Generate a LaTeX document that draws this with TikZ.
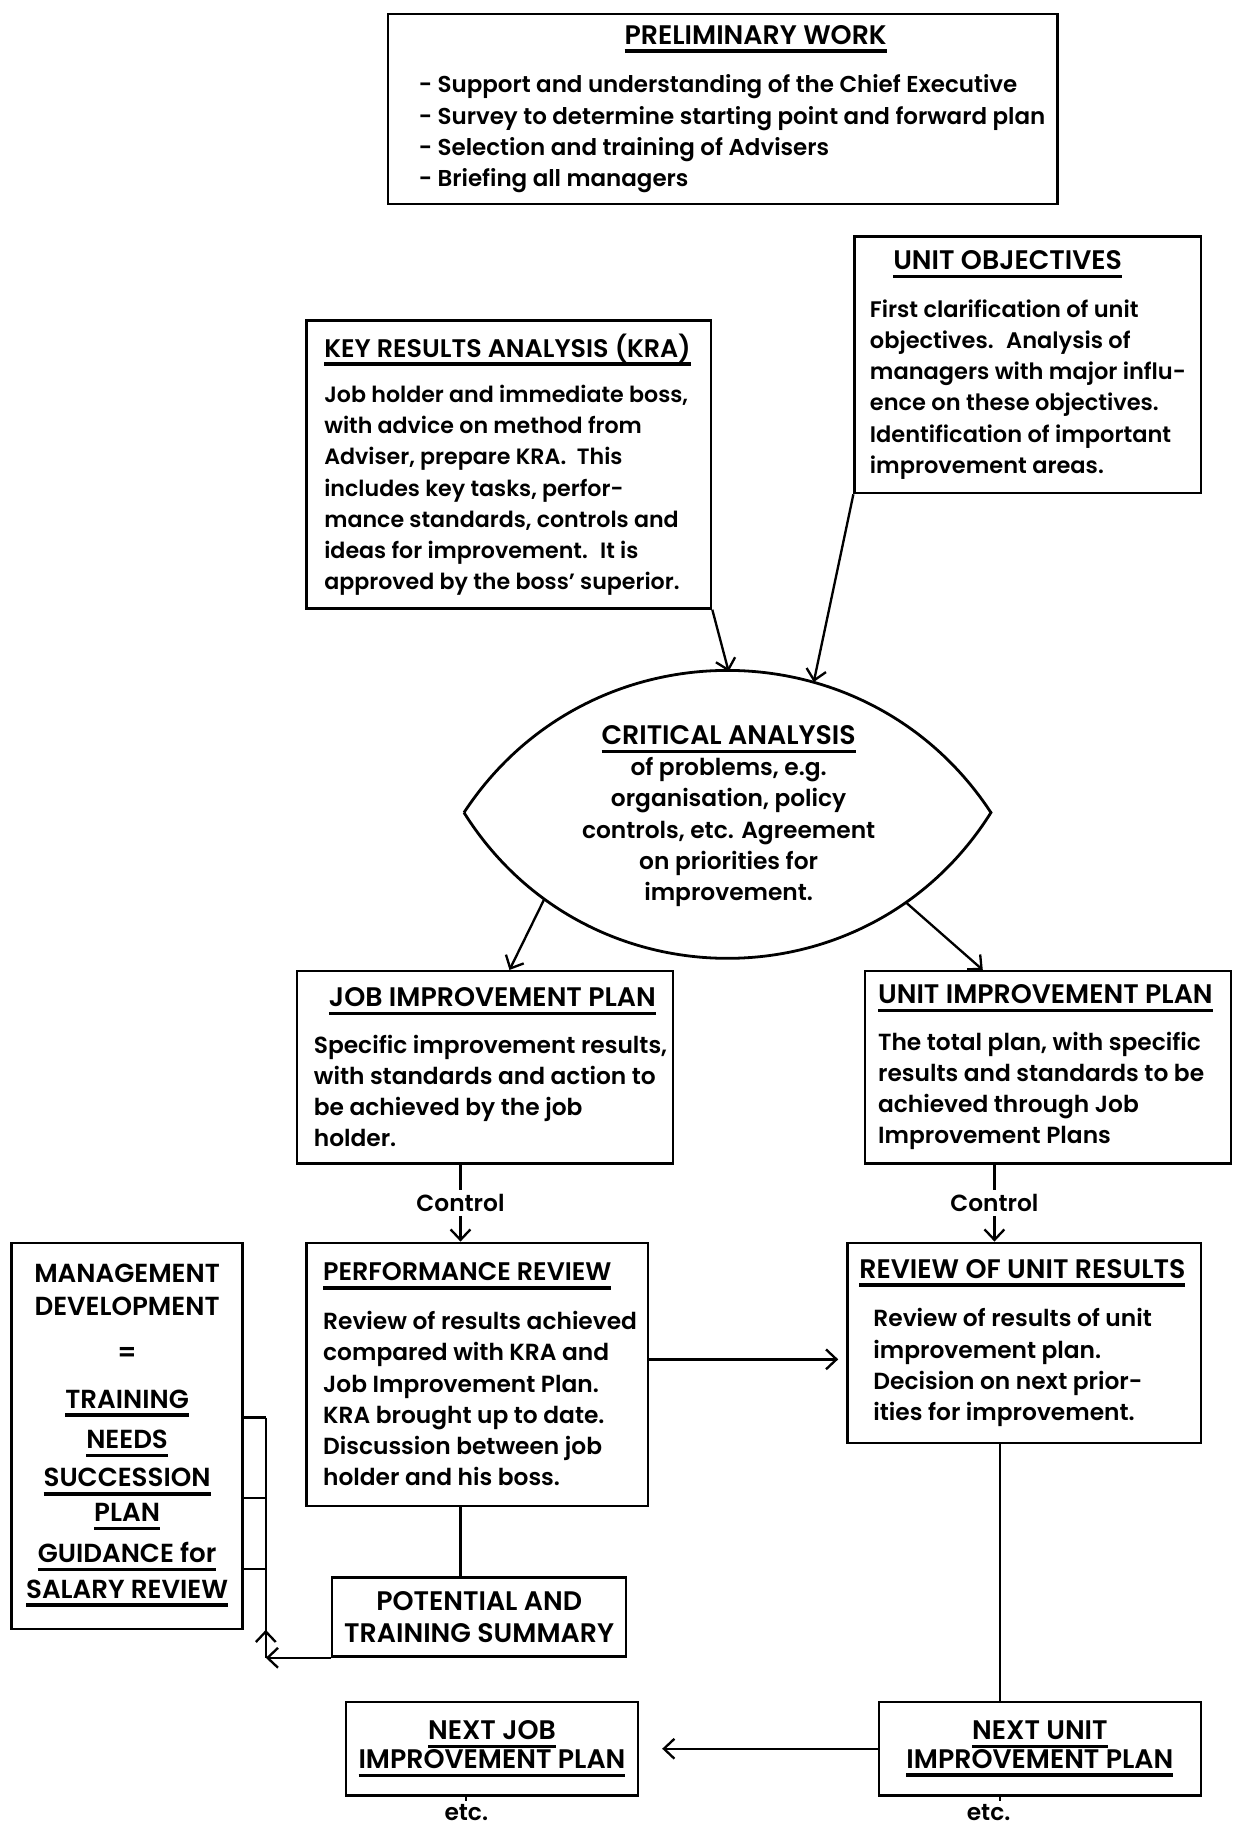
\documentclass[tikz,border=0pt]{standalone}
\usepackage{fontspec}
\setmainfont{Poppins}[UprightFont={* SemiBold}]
\usetikzlibrary{arrows.meta,calc}
\newcommand\ulx[1]{\setbox0\hbox{#1}\rlap{\rule[-7.5pt]{\wd0}{3pt}}\box0}
\newcommand\cpf{\fontsize{23}{26.8}\selectfont}
\newcommand\cpn{\fontsize{21.8}{26.8}\selectfont}
\tikzset{
 every node/.style={font=\fontsize{20}{26.8}\selectfont},
 box/.style={draw, line width=2pt, inner sep=0pt},
 txt/.style={inner sep=0pt, align=left, anchor=west},
 ctr/.style={inner sep=0pt, align=center},
 capbox/.style={box, align=center, font=\cpf},
 ln/.style={line width=2pt},
 arr/.style={line width=2pt, -{Straight Barb[length=9pt,width=17pt,line width=2pt]}},
}
\begin{document}
\begin{tikzpicture}[x=1pt,y=-1pt]
\useasboundingbox (0,0) rectangle (1058,1568);
% preliminary work
\node[box, minimum width=574pt, minimum height=163pt] (pw) at (620,93.5) {};
\node[txt, font=\fontsize{19.7}{26.8}\selectfont] (pwt) at ([xshift=27pt]pw.west) {\makebox[578pt][c]{\ulx{\cpf PRELIMINARY WORK}}\\[15pt]
- Support and understanding of the Chief Executive\\
- Survey to determine starting point and forward plan\\
- Selection and training of Advisers\\
- Briefing all managers};
% unit objectives
\node[box, minimum width=297pt, minimum height=220pt] (uo) at (881.5,313) {};
\node[txt, font=\fontsize{19.3}{26.8}\selectfont] (uot) at ([xshift=14pt]uo.west) {\hspace*{20pt}\ulx{\cpf UNIT OBJECTIVES}\\[14pt]
First clarification of unit\\
objectives.~ Analysis of\\
managers with major influ-\\
ence on these objectives.\\
Identification of important\\
improvement areas.};
% KRA
\node[box, minimum width=347pt, minimum height=247pt] (kra) at (436.5,398.5) {};
\node[txt, font=\fontsize{19}{26.8}\selectfont] (krat) at ([xshift=16pt]kra.west) {\ulx{\cpn KEY RESULTS ANALYSIS (KRA)}\\[12pt]
Job holder and immediate boss,\\
with advice on method from\\
Adviser, prepare KRA.~ This\\
includes key tasks, perfor-\\
mance standards, controls and\\
ideas for improvement.~ It is\\
approved by the boss' superior.};
% critical analysis lens
\coordinate (L) at (398,697);
\coordinate (R) at (850,697);
\draw[line width=2.4pt, line join=miter] (L) .. controls (504.6,534.4) and (743.4,534.4) .. (R)
  .. controls (745.4,863.7) and (502.6,863.7) .. (L);
\node[ctr] (ca) at (625,700) {\ulx{\cpf CRITICAL ANALYSIS}\\
of problems, e.g.\\
organisation, policy\\
controls, etc. Agreement\\
on priorities for\\
improvement.};
\coordinate (cain1) at (625,576);
\coordinate (cain2) at (698,585);
\coordinate (caout1) at (467,771);
\coordinate (caout2) at (777,774);
% job / unit improvement plans
\node[box, minimum width=322pt, minimum height=165pt] (jip) at (416,915.5) {};
\node[txt] (jipt) at ([xshift=15pt]jip.west) {\hspace*{13pt}\ulx{\cpf JOB IMPROVEMENT PLAN}\\[13pt]
Specific improvement results,\\
with standards and action to\\
be achieved by the job\\
holder.};
\node[box, minimum width=314pt, minimum height=165pt] (uip) at (899,915.5) {};
\node[txt] (uipt) at ([xshift=12pt]uip.west) {\ulx{\cpf UNIT IMPROVEMENT PLAN}\\[13pt]
The total plan, with specific\\
results and standards to be\\
achieved through Job\\
Improvement Plans};
\draw[arr] (kra.south east) -- (cain1);
\draw[arr] (uo.south west) -- (cain2);
\draw[arr] (caout1) -- ([xshift=21pt]jip.north);
\draw[arr] (caout2) -- ([xshift=-56pt]uip.north);
% control
\node (c1) at (395,1032) {Control};
\node (c2) at (853,1032) {Control};
% performance review
\node[box, minimum width=293pt, minimum height=226pt] (pr) at (409.5,1179) {};
\node[txt] (prt) at ([xshift=15pt]pr.west) {\ulx{\cpn PERFORMANCE REVIEW}\\[15pt]
Review of results achieved\\
compared with KRA and\\
Job Improvement Plan.\\
KRA brought up to date.\\
Discussion between job\\
holder and his boss.};
% review of unit results
\node[box, minimum width=303pt, minimum height=172pt] (rur) at (878.5,1152) {};
\node[txt] (rurt) at ([xshift=11pt]rur.west) {\ulx{\cpf REVIEW OF UNIT RESULTS}\\[15pt]
\hspace*{12pt}Review of results of unit\\
\hspace*{12pt}improvement plan.\\
\hspace*{12pt}Decision on next prior-\\
\hspace*{12pt}ities for improvement.};
\draw[ln] (c1.north |- jip.south) -- (c1.north);
\draw[arr] (c1.south) -- (c1.south |- pr.north);
\draw[ln] (c2.north |- uip.south) -- (c2.north);
\draw[arr] (c2.south) -- (c2.south |- rur.north);
\draw[arr, shorten >=7pt] ([yshift=13pt]pr.east) -- ([yshift=13pt]pr.east -| rur.west);
% management development
\node[capbox, font=\fontsize{22.4}{26.8}\selectfont, minimum width=198pt, minimum height=331pt] (md) at (109,1231.5) {MANAGEMENT\\[1pt]
DEVELOPMENT\\[13pt]
=\\[13pt]
\ulx{TRAINING}\\[8pt]
\ulx{NEEDS}\\[6pt]
\ulx{SUCCESSION}\\[3pt]
\ulx{PLAN}\\[8pt]
\ulx{GUIDANCE for}\\[4pt]
\ulx{SALARY REVIEW}};
% potential and training summary
\node[capbox, minimum width=252pt, minimum height=68pt] (pts) at (411,1387) {POTENTIAL AND\\TRAINING SUMMARY};
\draw[ln] (c1.south |- pr.south) -- (c1.south |- pts.north);
\coordinate (xb) at (228,0);
\coordinate (bk) at (pts.south west -| xb);
\coordinate (t1) at (228,1216);
\coordinate (t2) at (228,1285);
\coordinate (t3) at (228,1346);
\draw[ln] (t1 -| md.east) -- (t1);
\draw[ln] (t2 -| md.east) -- (t2);
\draw[ln] (t3 -| md.east) -- (t3);
\draw[ln] (t1) -- (bk);
\draw[arr] (pts.south west) -- (bk);
\draw[arr] (bk) -- ++(0,-24);
% next plans
\node[capbox, minimum width=250pt, minimum height=80pt] (njip) at (422,1500) {\ulx{NEXT JOB}\\[-2pt]\ulx{IMPROVEMENT PLAN}};
\node[capbox, minimum width=276pt, minimum height=80pt] (nuip) at (892,1500) {\ulx{NEXT UNIT}\\[-2pt]\ulx{IMPROVEMENT PLAN}};
\coordinate (vx) at (858,0);
\draw[ln] (rur.south -| vx) -- (nuip.north -| vx);
\draw[arr, shorten >=20pt] (nuip.west) -- (njip.east);
\node (e1) at (400,1555) {etc.};
\node (e2) at (848,1555) {etc.};
\draw[ln] (e1.north |- njip.south) -- (e1.north);
\draw[ln] (nuip.south -| vx) -- (e2.north -| vx);
\end{tikzpicture}
\end{document}
